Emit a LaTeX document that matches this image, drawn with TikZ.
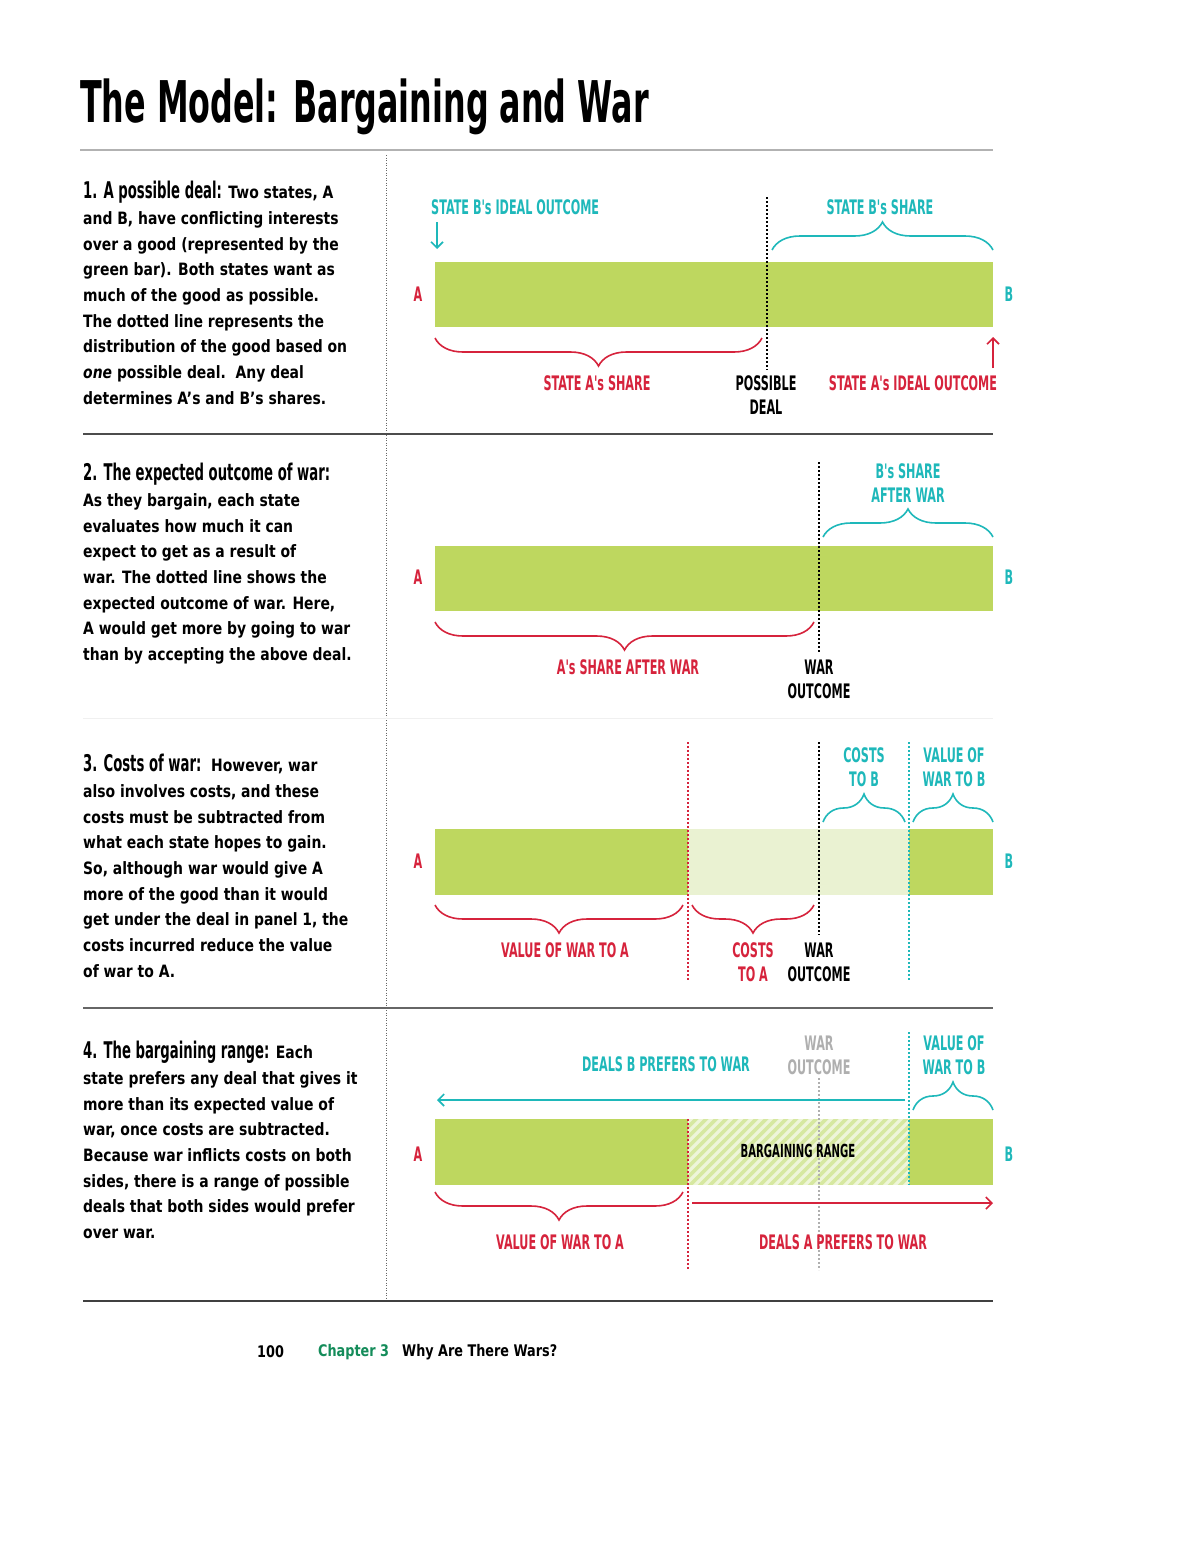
\documentclass[tikz,border=0pt]{standalone}
\usepackage{fontspec}
\usetikzlibrary{decorations.pathreplacing,arrows.meta}
\setmainfont{DejaVu Sans}[FakeStretch=0.82]
\newfontfamily\condf{DejaVu Sans}[FakeStretch=0.56]
\newfontfamily\titlef{DejaVu Sans}[FakeStretch=0.553]
\newfontfamily\headfam{DejaVu Sans}[FakeStretch=0.575]
\newfontfamily\footf{DejaVu Sans}[FakeStretch=0.8]
\definecolor{redc}{RGB}{214,35,60}
\definecolor{tealc}{RGB}{30,184,186}
\definecolor{gbar}{RGB}{190,215,95}
\definecolor{glight}{RGB}{234,242,210}
\definecolor{ghatch}{RGB}{214,232,160}
\definecolor{chapg}{RGB}{20,140,90}
\definecolor{greyt}{RGB}{175,175,175}
\newcommand\headf{\headfam\bfseries\fontsize{23}{25.7}\selectfont}
\begin{document}
\begin{tikzpicture}[x=1pt,y=-1pt,
  lbl/.style={font=\condf\bfseries\fontsize{20}{24}\selectfont, inner sep=0, align=center},
  body/.style={font=\bfseries\fontsize{17}{25.7}\selectfont, inner sep=0, anchor=north west, align=left},
  dotl/.style={line width=1.8, dash pattern=on 1.8 off 2.2},
  brc/.style={decorate, decoration={brace, amplitude=28}, line width=1.6},
  arr/.style={line width=1.6, -{Straight Barb[length=6pt,width=12pt]}},
  rule/.style={line width=1.2},
  foot/.style={font=\footf\bfseries\fontsize{16}{18}\selectfont, inner sep=0, anchor=west}
]
\useasboundingbox (0,0) rectangle (1200,1553);
\fill[white] (0,0) rectangle (1200,1553);

% title and rules
\node[anchor=base west, inner sep=0, font=\titlef\bfseries\fontsize{57.5}{60}\selectfont] (title) at (80,122) {The Model: Bargaining and War};
\draw[rule, draw=black!30] (80,150) -- (993,150);
\draw[line width=1, dash pattern=on 1 off 1.5, draw=black!60] (386,155) -- (386,1300);
\draw[rule, draw=black!70] (83,434) -- (993,434);
\draw[line width=1, draw=black!6] (83,718) -- (993,718);
\draw[rule, draw=black!60] (83,1008) -- (993,1008);
\draw[rule, draw=black!75] (83,1301) -- (993,1301);

% left texts
\node[body] (t1) at (83,181) {{\headf 1. A possible deal:} Two states, A\\
and B, have conflicting interests\\
over a good (represented by the\\
green bar). Both states want as\\
much of the good as possible.\\
The dotted line represents the\\
distribution of the good based on\\
\textit{one} possible deal.\ \ Any deal\\
determines A's and B's shares.};
\node[body] (t2) at (83,463) {{\headf 2. The expected outcome of war:}\\
As they bargain, each state\\
evaluates how much it can\\
expect to get as a result of\\
war. The dotted line shows the\\
expected outcome of war. Here,\\
A would get more by going to war\\
than by accepting the above deal.};
\node[body] (t3) at (83,754) {{\headf 3. Costs of war:}\ \ However, war\\
also involves costs, and these\\
costs must be subtracted from\\
what each state hopes to gain.\\
So, although war would give A\\
more of the good than it would\\
get under the deal in panel 1, the\\
costs incurred reduce the value\\
of war to A.};
\node[body] (t4) at (83,1041) {{\headf 4. The bargaining range:} Each\\
state prefers any deal that gives it\\
more than its expected value of\\
war, once costs are subtracted.\\
Because war inflicts costs on both\\
sides, there is a range of possible\\
deals that both sides would prefer\\
over war.};

% ---------- panel 1
\fill[gbar] (435,262) rectangle (993,327);
\node[lbl, text=redc] (a1) at (418,294) {A};
\node[lbl, text=tealc] (b1) at (1009,294) {B};
\coordinate (d1t) at (767,197); \coordinate (d1b) at (767,370);
\draw[dotl] (d1t) -- (d1b);
\node[lbl, text=tealc, anchor=west] (bideal) at (431,207) {STATE B's IDEAL OUTCOME};
\coordinate (bi1) at (437,222); \coordinate (bi2) at (437,249);
\draw[arr, tealc] (bi1) -- (bi2);
\node[lbl, text=tealc] (bshare) at (880,207) {STATE B's SHARE};
\coordinate (bs1) at (772,250); \coordinate (bs2) at (993,250);
\draw[brc, tealc] (bs1) -- (bs2);
\coordinate (as1) at (762,338); \coordinate (as2) at (435,338);
\draw[brc, redc] (as1) -- (as2);
\node[lbl, text=redc] (ashare) at (597,383) {STATE A's SHARE};
\node[lbl] (pdeal) at (766,395) {POSSIBLE\\DEAL};
\coordinate (ai1) at (993,368); \coordinate (ai2) at (993,337);
\draw[arr, redc] (ai1) -- (ai2);
\node[lbl, text=redc] (aideal) at (913,383) {STATE A's IDEAL OUTCOME};

% ---------- panel 2
\fill[gbar] (435,546) rectangle (993,611);
\node[lbl, text=redc] (a2) at (418,577) {A};
\node[lbl, text=tealc] (b2) at (1009,577) {B};
\coordinate (d2t) at (819,462); \coordinate (d2b) at (819,652);
\draw[dotl] (d2t) -- (d2b);
\node[lbl, text=tealc] (bsw) at (908,483) {B's SHARE\\AFTER WAR};
\coordinate (bw1) at (823,537); \coordinate (bw2) at (993,537);
\draw[brc, tealc] (bw1) -- (bw2);
\coordinate (aw1) at (814,622); \coordinate (aw2) at (435,622);
\draw[brc, redc] (aw1) -- (aw2);
\node[lbl, text=redc] (asw) at (628,667) {A's SHARE AFTER WAR};
\node[lbl] (wo2) at (819,679) {WAR\\OUTCOME};

% ---------- panel 3
\fill[gbar] (435,829) rectangle (688,895);
\fill[glight] (688,829) rectangle (909,895);
\fill[gbar] (909,829) rectangle (993,895);
\node[lbl, text=redc] (a3) at (418,861) {A};
\node[lbl, text=tealc] (b3) at (1009,861) {B};
\coordinate (r3t) at (688,742); \coordinate (r3b) at (688,980);
\coordinate (k3t) at (819,742); \coordinate (k3b) at (819,935);
\coordinate (c3t) at (909,742); \coordinate (c3b) at (909,980);
\draw[dotl, redc] (r3t) -- (r3b);
\draw[dotl] (k3t) -- (k3b);
\draw[dotl, tealc] (c3t) -- (c3b);
\node[lbl, text=tealc] (ctb) at (864,767) {COSTS\\TO B};
\node[lbl, text=tealc] (vwb3) at (954,767) {VALUE OF\\WAR TO B};
\coordinate (cb1) at (823,822); \coordinate (cb2) at (905,822);
\draw[brc, tealc] (cb1) -- (cb2);
\coordinate (vb1) at (913,822); \coordinate (vb2) at (993,822);
\draw[brc, tealc] (vb1) -- (vb2);
\coordinate (va1) at (683,905); \coordinate (va2) at (435,905);
\draw[brc, redc] (va1) -- (va2);
\coordinate (ca1) at (814,905); \coordinate (ca2) at (692,905);
\draw[brc, redc] (ca1) -- (ca2);
\node[lbl, text=redc] (vwa3) at (565,950) {VALUE OF WAR TO A};
\node[lbl, text=redc] (cta) at (753,962) {COSTS\\TO A};
\node[lbl] (wo3) at (819,962) {WAR\\OUTCOME};

% ---------- panel 4
\fill[gbar] (435,1119) rectangle (688,1185);
\fill[gbar] (909,1119) rectangle (993,1185);
\begin{scope}
\clip (688,1119) rectangle (909,1185);
\fill[ghatch] (688,1119) rectangle (909,1185);
\foreach \i in {0,...,32} {
  \draw[white, opacity=0.6, line width=3.2] ({610+\i*10},1190) -- ({686+\i*10},1114);
}
\end{scope}
\node[lbl, text=redc] (a4) at (418,1154) {A};
\node[lbl, text=tealc] (b4) at (1009,1154) {B};
\coordinate (r4t) at (688,1119); \coordinate (r4b) at (688,1270);
\coordinate (g4t) at (819,1078); \coordinate (g4b) at (819,1270);
\coordinate (c4t) at (909,1032); \coordinate (c4b) at (909,1185);
\draw[dotl, redc] (r4t) -- (r4b);
\draw[dotl, greyt] (g4t) -- (g4b);
\draw[dotl, tealc] (c4t) -- (c4b);
\node[lbl, text=greyt] (wo4) at (819,1055) {WAR\\OUTCOME};
\node[lbl, text=tealc] (dbp) at (666,1064) {DEALS B PREFERS TO WAR};
\coordinate (tb1) at (905,1100); \coordinate (tb2) at (437,1100);
\draw[arr, tealc] (tb1) -- (tb2);
\node[lbl, text=tealc] (vwb4) at (954,1055) {VALUE OF\\WAR TO B};
\coordinate (vb41) at (913,1110); \coordinate (vb42) at (993,1110);
\draw[brc, tealc] (vb41) -- (vb42);
\node[lbl, font=\condf\bfseries\fontsize{18}{22}\selectfont] (brange) at (798,1151) {BARGAINING RANGE};
\coordinate (va41) at (683,1192); \coordinate (va42) at (435,1192);
\draw[brc, redc] (va41) -- (va42);
\node[lbl, text=redc] (vwa4) at (560,1242) {VALUE OF WAR TO A};
\coordinate (ta1) at (692,1203); \coordinate (ta2) at (993,1203);
\draw[arr, redc] (ta1) -- (ta2);
\node[lbl, text=redc] (dap) at (843,1242) {DEALS A PREFERS TO WAR};

% footer
\node[foot] (pg) at (257,1352) {100};
\node[foot, text=chapg] (ch) at (318,1352) {Chapter 3};
\node[foot] (wh) at (402,1352) {Why Are There Wars?};
\end{tikzpicture}
\end{document}
